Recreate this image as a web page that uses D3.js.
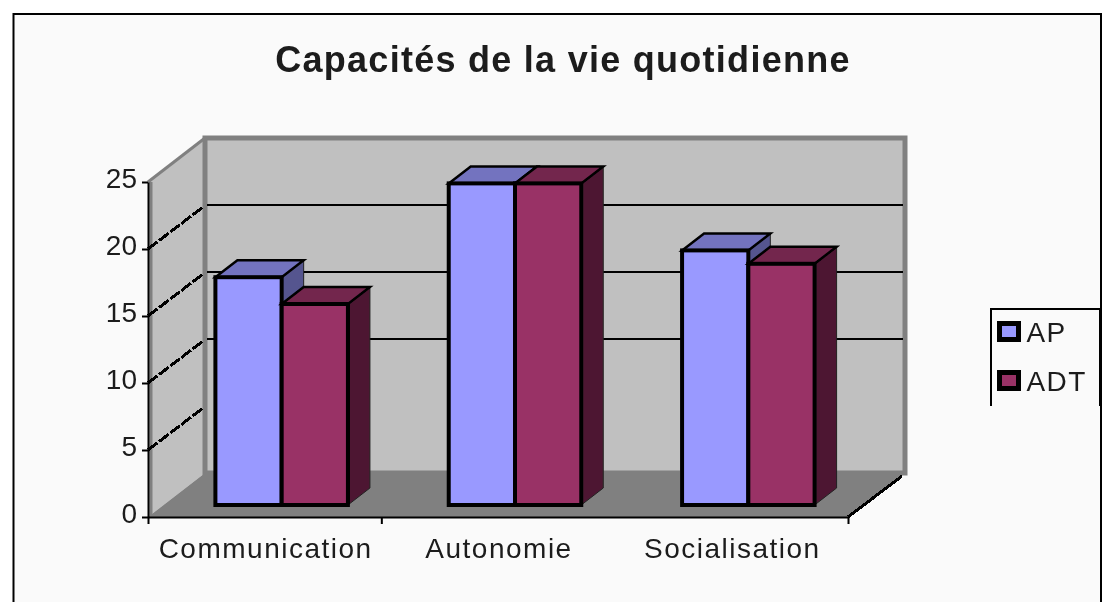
<!DOCTYPE html>
<html lang="en">
<head>
    <meta charset="UTF-8">
    <title>Capacités de la vie quotidienne</title>
    <script src="https://cdn.jsdelivr.net/npm/d3@7"></script>
    <style>
        html, body { margin: 0; padding: 0; background: #fff; overflow: hidden; }
        text { font-family: "Liberation Sans", Arial, sans-serif; fill: #1a1a1a; }
    </style>
</head>
<body>
    <div id="root"></div>
    <script>
        const categories = ['Communication', 'Autonomie', 'Socialisation'];
        const seriesNames = ['AP', 'ADT'];
        const apValues = [17, 24, 19];
        const adtValues = [15, 24, 18];
        const yTicks = [0, 5, 10, 15, 20, 25];
        const wallGridValues = [10, 15, 20];    // the 5 line is not drawn on the back wall in the source
        const sideGridValues = [5, 10, 15, 20];
        const xTickEdges = [0, 1, 3];

        const fronts = ['#9999ff', '#993366'];
        const tops = ['#7373bf', '#73264d'];
        const sides = ['#55558f', '#4d1933'];

        const width = 1113, height = 602;
        const plotLeft = 148, plotRight = 848, plotBottom = 517, plotTop = 182;
        const depthX = 57, depthY = 44;         // floor depth of the 3D box
        const barOffX = 17, barOffY = 12;       // gap from front of the box to the bar
        const barDepthX = 22, barDepthY = 17;

        const svg = d3.select('#root').append('svg')
            .attr('width', width)
            .attr('height', height);

        svg.append('defs').append('filter')
            .attr('id', 'soft')
            .append('feGaussianBlur')
            .attr('stdDeviation', 0.6);

        const g = svg.append('g').attr('filter', 'url(#soft)');

        const x0 = d3.scaleBand().domain(categories).range([plotLeft, plotRight])
            .paddingInner(0.432).paddingOuter(0.216);
        const x1 = d3.scaleBand().domain(seriesNames).range([0, x0.bandwidth()]);
        const y = d3.scaleLinear().domain([0, 25]).range([plotBottom, plotTop]);
        const xEdge = d3.scaleLinear().domain([0, 3]).range([plotLeft, plotRight]);

        // outer frame, runs off the bottom of the picture
        g.append('rect')
            .attr('x', 13.5).attr('y', 14)
            .attr('width', 1087.5).attr('height', 620)
            .attr('fill', '#fafafa')
            .attr('stroke', '#000')
            .attr('stroke-width', 2);

        g.append('text')
            .attr('x', 563).attr('y', 72)
            .attr('text-anchor', 'middle')
            .attr('font-size', 36)
            .attr('font-weight', 'bold')
            .attr('letter-spacing', 1.27)
            .text('Capacités de la vie quotidienne');

        // side wall
        g.append('polygon')
            .attr('points', [[plotLeft, y(25)], [plotLeft + depthX, y(25) - depthY], [plotLeft + depthX, y(0) - depthY], [plotLeft, y(0)]].join(' '))
            .attr('fill', '#c0c0c0');
        g.append('line')
            .attr('x1', plotLeft).attr('y1', y(25))
            .attr('x2', plotLeft + depthX).attr('y2', y(25) - depthY)
            .attr('stroke', '#808080').attr('stroke-width', 3);
        g.append('line')
            .attr('x1', plotLeft + 3).attr('y1', y(25))
            .attr('x2', plotLeft + 3).attr('y2', y(0))
            .attr('stroke', '#808080').attr('stroke-width', 3);

        // back wall
        g.append('rect')
            .attr('x', plotLeft + depthX).attr('y', y(25) - depthY)
            .attr('width', plotRight - plotLeft)
            .attr('height', y(0) - y(25))
            .attr('fill', '#c0c0c0')
            .attr('stroke', '#808080')
            .attr('stroke-width', 5);

        // floor
        g.append('polygon')
            .attr('points', [[plotLeft, y(0)], [plotRight, y(0)], [plotRight + depthX, y(0) - depthY], [plotLeft + depthX, y(0) - depthY]].join(' '))
            .attr('fill', '#808080');

        // grid lines
        g.selectAll('.wall-grid').data(wallGridValues).enter().append('line')
            .attr('x1', plotLeft + depthX + 2).attr('x2', plotRight + depthX - 2)
            .attr('y1', d => y(d) - depthY).attr('y2', d => y(d) - depthY)
            .attr('stroke', '#000').attr('stroke-width', 2);
        g.selectAll('.side-grid').data(sideGridValues).enter().append('line')
            .attr('x1', plotLeft).attr('x2', plotLeft + depthX - 2)
            .attr('y1', d => y(d)).attr('y2', d => y(d) - depthY + 2)
            .attr('stroke', '#000').attr('stroke-width', 3)
            .attr('stroke-dasharray', '12 2')
            .attr('shape-rendering', 'crispEdges');
        g.append('line')
            .attr('x1', plotRight).attr('x2', plotRight + depthX - 3)
            .attr('y1', y(0)).attr('y2', y(0) - depthY + 3)
            .attr('stroke', '#000').attr('stroke-width', 3)
            .attr('shape-rendering', 'crispEdges');

        // bars, AP first so ADT sits over its side face
        seriesNames.forEach((name, s) => {
            const values = s === 0 ? apValues : adtValues;
            const bars = g.append('g').selectAll('g')
                .data(categories.map((c, i) => ({ c: c, v: values[i] })))
                .enter().append('g')
                .attr('transform', d => `translate(${x0(d.c) + x1(name) + barOffX},${-barOffY})`);

            const w = x1.bandwidth();
            bars.append('polygon')
                .attr('points', d => [[w, y(d.v)], [w + barDepthX, y(d.v) - barDepthY], [w + barDepthX, y(0) - barDepthY], [w, y(0)]].join(' '))
                .attr('fill', sides[s])
                .attr('stroke', '#222').attr('stroke-width', 1);
            bars.append('polygon')
                .attr('points', d => [[0, y(d.v)], [barDepthX, y(d.v) - barDepthY], [w + barDepthX, y(d.v) - barDepthY], [w, y(d.v)]].join(' '))
                .attr('fill', tops[s])
                .attr('stroke', '#000').attr('stroke-width', 2.5);
            bars.append('rect')
                .attr('x', 0).attr('y', d => y(d.v))
                .attr('width', w)
                .attr('height', d => y(0) - y(d.v))
                .attr('fill', fronts[s])
                .attr('stroke', '#000').attr('stroke-width', 4);
        });

        // axes
        const yAxis = g.append('g')
            .attr('transform', `translate(${plotLeft},0)`)
            .call(d3.axisLeft(y).tickValues(yTicks).tickSize(6).tickSizeOuter(0).tickPadding(5));
        yAxis.selectAll('path, line').attr('stroke', '#000').attr('stroke-width', 2);
        yAxis.selectAll('text')
            .attr('font-size', 28).attr('font-family', null)
            .attr('dy', '0.2em');

        const xAxis = g.append('g')
            .attr('transform', `translate(0,${plotBottom})`)
            .call(d3.axisBottom(xEdge).tickValues(xTickEdges).tickSize(7).tickSizeOuter(0).tickFormat(''));
        xAxis.selectAll('path, line').attr('stroke', '#000').attr('stroke-width', 2);

        g.selectAll('.cat').data(categories).enter().append('text')
            .attr('x', d => x0(d) + x0.bandwidth() / 2 + 1)
            .attr('y', 558)
            .attr('text-anchor', 'middle')
            .attr('font-size', 28)
            .attr('letter-spacing', 1.5)
            .text(d => d);

        // legend, box has no bottom edge in the source
        g.append('path')
            .attr('d', d3.line()([[991, 406], [991, 309], [1100, 309], [1100, 406]]))
            .attr('fill', 'none')
            .attr('stroke', '#000')
            .attr('stroke-width', 2);
        const legend = g.selectAll('.legend').data(seriesNames).enter().append('g')
            .attr('transform', (d, i) => `translate(999.5,${323.5 + i * 49})`);
        legend.append('rect')
            .attr('width', 19).attr('height', 16)
            .attr('fill', (d, i) => fronts[i])
            .attr('stroke', '#000').attr('stroke-width', 5);
        legend.append('text')
            .attr('x', 27).attr('y', 18)
            .attr('font-size', 28)
            .attr('letter-spacing', 1.4)
            .text(d => d);
    </script>
</body>
</html>
